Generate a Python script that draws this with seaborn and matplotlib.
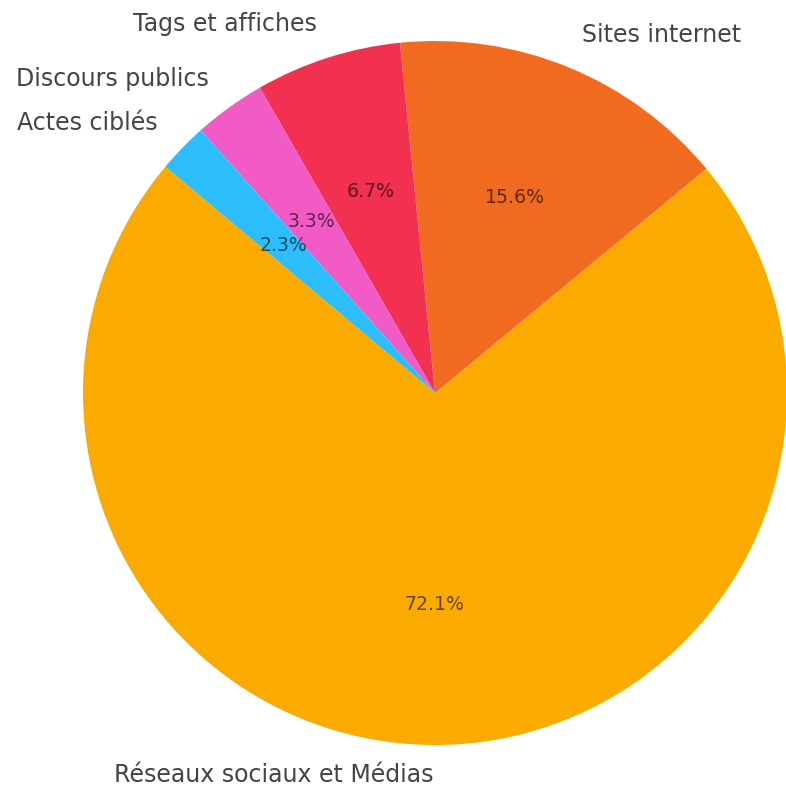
import matplotlib
matplotlib.use("Agg")
import matplotlib.pyplot as plt
import seaborn as sns

sns.set_theme(style="white")
plt.rcParams['font.family'] = ['DejaVu Sans']

categories = ["Réseaux sociaux et Médias", "Sites internet", "Tags et affiches",
              "Discours publics", "Actes ciblés"]
values = [72.1, 15.6, 6.7, 3.3, 2.3]
colors = ["#FBAA00", "#F06A1F", "#F2304F", "#F25AC6", "#2BBEFA"]

fig = plt.figure(figsize=(7.86, 7.89), dpi=100)
ax = fig.add_axes([0, 0, 1, 1])
wedges, texts, autotexts = ax.pie(values, labels=categories, colors=colors,
                                  autopct="%1.1f%%", startangle=140,
                                  wedgeprops={"linewidth": 0, "edgecolor": "none"},
                                  textprops={"fontsize": 17, "color": "#444444"})
for t in autotexts:
    t.set_fontsize(13.6)
    t.set_color("black")
    t.set_alpha(0.6)
# nudge the bottom label slightly upward so it stays inside the figure
x0, y0 = texts[0].get_position()
texts[0].set_position((x0, y0 + 0.015))
ax.set_aspect("auto")
ax.set_xlim(-435/352, (786-435)/352)
ax.set_ylim(-(789-393)/352, 393/352)
ax.axis("off")
fig.savefig("out.png", dpi=100)
